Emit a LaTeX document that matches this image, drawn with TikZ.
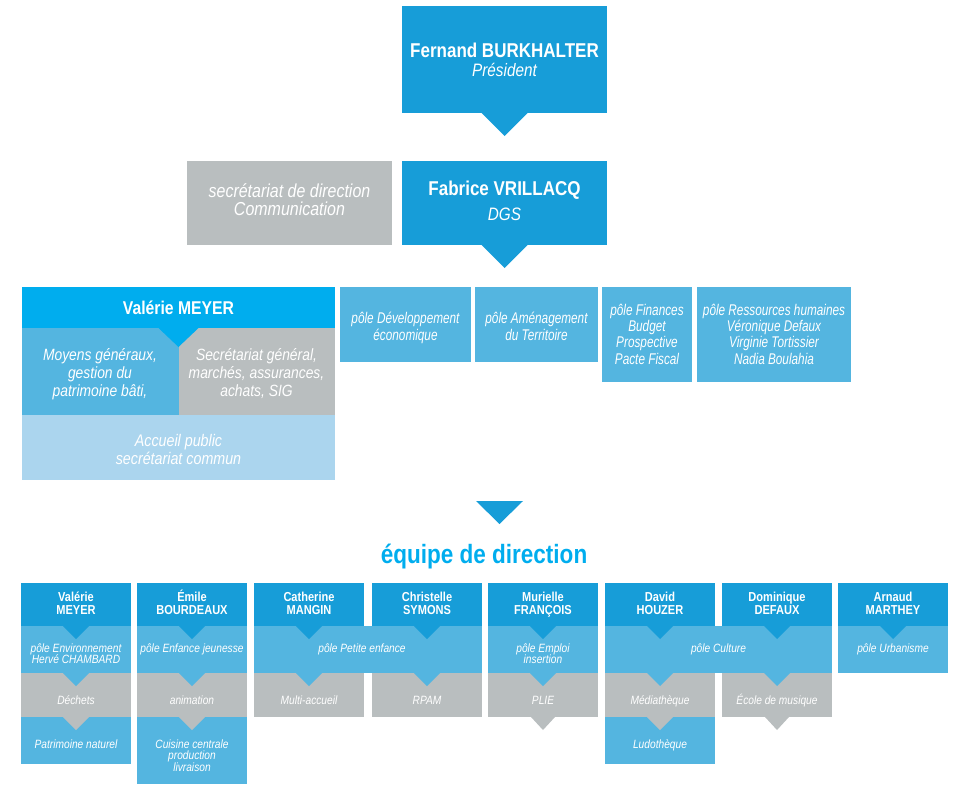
\documentclass[tikz,border=0pt]{standalone}
\usepackage{fontspec}
\setmainfont{Liberation Sans}[FakeStretch=0.85]
\newfontfamily\narrowfont{Liberation Sans}[FakeStretch=0.76]
\definecolor{cdark}{HTML}{179DD8}
\definecolor{cbright}{HTML}{00ADEE}
\definecolor{clight}{HTML}{54B5E0}
\definecolor{cgrey}{HTML}{B9BEBF}
\definecolor{cpale}{HTML}{ABD5EE}
\newcommand\cellbox[6]{\node[cell,fill=#2,minimum width=#5pt,minimum height=#6pt] (#1) at (#3,#4) {};}
\newcommand\tri[4]{\fill[#1] ([xshift=-#3pt]#2) -- ([xshift=#3pt]#2) -- ([yshift=-#4pt]#2) -- cycle;}
\begin{document}
\begin{tikzpicture}[x=1pt,y=-1pt,
  cell/.style={anchor=north west,inner sep=0pt,outer sep=0pt,draw=none},
  txt/.style={anchor=base,inner sep=0pt,outer sep=0pt,align=center,text=white},
  bigname/.style={txt,font=\bfseries\fontsize{20}{22}\selectfont},
  bigsub/.style={txt,font=\itshape\fontsize{18}{18.3}\selectfont},
  sectxt/.style={txt,font=\itshape\fontsize{18.8}{18.3}\selectfont},
  midname/.style={txt,font=\bfseries\fontsize{18.5}{20}\selectfont},
  midtxt/.style={txt,font=\itshape\fontsize{16.3}{18.3}\selectfont},
  poletxt/.style={txt,font=\narrowfont\itshape\fontsize{15.5}{16.4}\selectfont},
  smallname/.style={txt,font=\bfseries\fontsize{13}{13.3}\selectfont},
  smalltxt/.style={txt,font=\itshape\fontsize{12}{11.7}\selectfont},
  ]
\useasboundingbox (0,0) rectangle (955,784);
% ---------- top
\cellbox{fb}{cdark}{402}{6}{205}{107}
\cellbox{fv}{cdark}{402}{161}{205}{84}
\cellbox{sd}{cgrey}{187}{161}{205}{84}
\tri{cdark}{fb.south}{23}{23}
\tri{cdark}{fv.south}{23}{23}
\node[bigname] (fbn) at (504.5,58) {Fernand BURKHALTER};
\node[bigsub] (fbs) at (504.5,76) {Président};
\node[bigname] (fvn) at (504.5,195) {Fabrice VRILLACQ};
\node[bigsub] (fvs) at (504.5,220) {DGS};
\node[sectxt] (sdt) at (289.5,215.3) {secrétariat de direction\\Communication};
% ---------- Valérie block
\cellbox{vh}{cbright}{22}{287}{313}{41}
\cellbox{vm}{clight}{22}{328}{157}{87}
\cellbox{vs}{cgrey}{179}{328}{156}{87}
\cellbox{va}{cpale}{22}{415}{313}{65}
\tri{cbright}{vh.south}{20}{19}
\node[midname] (vht) at (178.5,314) {Valérie MEYER};
\node[midtxt] (vmt) at (100,396.6) {Moyens généraux,\\gestion du\\patrimoine bâti,};
\node[midtxt] (vst) at (256.5,396.6) {Secrétariat général,\\marchés, assurances,\\achats, SIG};
\node[midtxt,font=\itshape\fontsize{16.8}{18.3}\selectfont] (vat) at (178.5,464.3) {Accueil public\\secrétariat commun};
% ---------- pôles
\cellbox{pd}{clight}{340}{287}{131}{75}
\cellbox{pa}{clight}{475}{287}{123}{75}
\cellbox{pf}{clight}{602}{287}{90}{95}
\cellbox{pr}{clight}{697}{287}{154}{95}
\node[poletxt] (pdt) at (405.5,340.3) {pôle Développement\\économique};
\node[poletxt] (pat) at (536.5,340.3) {pôle Aménagement\\du Territoire};
\node[poletxt] (pft) at (647,364.3) {pôle Finances\\Budget\\Prospective\\Pacte Fiscal};
\node[poletxt] (prt) at (774,364.3) {pôle Ressources humaines\\Véronique Defaux\\Virginie Tortissier\\Nadia Boulahia};
% ---------- équipe de direction
\coordinate (eq) at (499.5,501);
\tri{cdark}{eq}{23.5}{23}
\node[anchor=base,inner sep=0pt,text=cbright,font=\bfseries\fontsize{26.5}{28}\selectfont] (eqt) at (484,563) {équipe de direction};
% ---------- bottom row
% headers
\cellbox{h1}{cdark}{21}{583}{110}{43}
\cellbox{h2}{cdark}{137}{583}{110}{43}
\cellbox{h3}{cdark}{254}{583}{110}{43}
\cellbox{h4}{cdark}{372}{583}{110}{43}
\cellbox{h5}{cdark}{488}{583}{110}{43}
\cellbox{h6}{cdark}{605}{583}{110}{43}
\cellbox{h7}{cdark}{722}{583}{110}{43}
\cellbox{h8}{cdark}{838}{583}{110}{43}
% pôle row
\cellbox{p1}{clight}{21}{626}{110}{47}
\cellbox{p2}{clight}{137}{626}{110}{47}
\cellbox{pe}{clight}{254}{626}{228}{47}
\cellbox{p5}{clight}{488}{626}{110}{47}
\cellbox{pc}{clight}{605}{626}{227}{47}
\cellbox{p8}{clight}{838}{626}{110}{47}
% grey row
\cellbox{g1}{cgrey}{21}{673}{110}{44}
\cellbox{g2}{cgrey}{137}{673}{110}{44}
\cellbox{g3}{cgrey}{254}{673}{110}{44}
\cellbox{g4}{cgrey}{372}{673}{110}{44}
\cellbox{g5}{cgrey}{488}{673}{110}{44}
\cellbox{g6}{cgrey}{605}{673}{110}{44}
\cellbox{g7}{cgrey}{722}{673}{110}{44}
% bottom row
\cellbox{b1}{clight}{21}{717}{110}{47}
\cellbox{b2}{clight}{137}{717}{110}{67}
\cellbox{b6}{clight}{605}{717}{110}{47}
% triangles header -> pôle
\foreach \i in {1,...,8}{\tri{cdark}{h\i.south}{13}{13}}
% triangles pôle -> grey
\tri{clight}{p1.south}{13}{13}
\tri{clight}{p2.south}{13}{13}
\coordinate (pe3) at (h3.south |- pe.south);
\coordinate (pe4) at (h4.south |- pe.south);
\tri{clight}{pe3}{13}{13}
\tri{clight}{pe4}{13}{13}
\tri{clight}{p5.south}{13}{13}
\coordinate (pc6) at (h6.south |- pc.south);
\coordinate (pc7) at (h7.south |- pc.south);
\tri{clight}{pc6}{13}{13}
\tri{clight}{pc7}{13}{13}
% triangles grey -> below
\tri{cgrey}{g1.south}{13}{13}
\tri{cgrey}{g2.south}{13}{13}
\tri{cgrey}{g5.south}{12}{13}
\tri{cgrey}{g6.south}{13}{13}
\tri{cgrey}{g7.south}{12}{13}
% texts
\node[smallname] (h1t) at (76,614.3) {Valérie\\MEYER};
\node[smallname] (h2t) at (192,614.3) {Émile\\BOURDEAUX};
\node[smallname] (h3t) at (309,614.3) {Catherine\\MANGIN};
\node[smallname] (h4t) at (427,614.3) {Christelle\\SYMONS};
\node[smallname] (h5t) at (543,614.3) {Murielle\\FRANÇOIS};
\node[smallname] (h6t) at (660,614.3) {David\\HOUZER};
\node[smallname] (h7t) at (777,614.3) {Dominique\\DEFAUX};
\node[smallname] (h8t) at (893,614.3) {Arnaud\\MARTHEY};
\node[smalltxt] (p1t) at (76,663.7) {pôle Environnement\\Hervé CHAMBARD};
\node[smalltxt] (p2t) at (192,652) {pôle Enfance jeunesse};
\node[smalltxt] (pet) at (362,652) {pôle Petite enfance};
\node[smalltxt] (p5t) at (543,663.7) {pôle Emploi\\insertion};
\node[smalltxt] (pct) at (718.5,652) {pôle Culture};
\node[smalltxt] (p8t) at (893,652) {pôle Urbanisme};
\node[smalltxt] (g1t) at (76,704) {Déchets};
\node[smalltxt] (g2t) at (192,704) {animation};
\node[smalltxt] (g3t) at (309,704) {Multi-accueil};
\node[smalltxt] (g4t) at (427,704) {RPAM};
\node[smalltxt] (g5t) at (543,704) {PLIE};
\node[smalltxt] (g6t) at (660,704) {Médiathèque};
\node[smalltxt] (g7t) at (777,704) {École de musique};
\node[smalltxt] (b1t) at (76,748) {Patrimoine naturel};
\node[smalltxt] (b2t) at (192,771.4) {Cuisine centrale\\production\\livraison};
\node[smalltxt] (b6t) at (660,748) {Ludothèque};
\end{tikzpicture}
\end{document}
